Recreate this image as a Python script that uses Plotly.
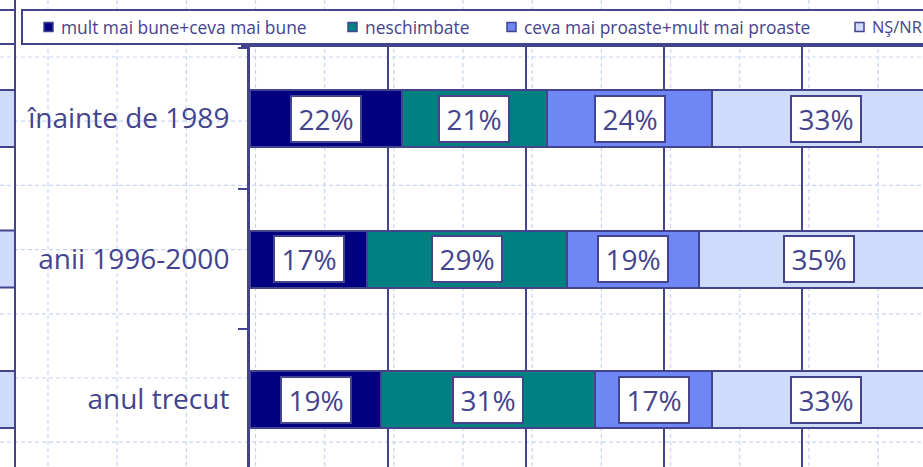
import plotly.graph_objects as go

# ---------------- data ----------------
categories = ["înainte de 1989", "anii 1996-2000", "anul trecut"]
series_names = ["mult mai bune+ceva mai bune", "neschimbate",
                "ceva mai proaste+mult mai proaste", "NŞ/NR"]
v_better = [22, 17, 19]
v_same = [21, 29, 31]
v_worse = [24, 19, 17]
v_nsnr = [33, 35, 33]
series_values = [v_better, v_same, v_worse, v_nsnr]

# ---------------- style ----------------
colors = ["#000080", "#008080", "#6E87F4", "#CFDBFA"]
DARK = "#44448E"
GRID_BG = "#C9D5F6"
FONT = "Open Sans"

W, H = 923, 467
L, T = 250, 47           # plot area left / top in px
PW, PH = W - L, H - T    # plot area size
PX_PER_FULL = 690        # px for 100 %
ROW_PX = 140.5           # px per category
ROW0_CENTER = 118.5      # px of first category centre
BAR_W = 57 / ROW_PX


def px2x(px):
    return (px - L) / PW


def py2y(py):
    return (H - py) / PH


fig = go.Figure()

for name, vals, col in zip(series_names, series_values, colors):
    fig.add_trace(go.Bar(
        orientation="h", y=categories, x=[v / 100 for v in vals], name=name,
        marker=dict(color=col, line=dict(color=DARK, width=2)),
        width=BAR_W, showlegend=False, hoverinfo="skip"))

# data labels (white boxes)
annotations = []
for ci, cat in enumerate(categories):
    start = 0.0
    for vals in series_values:
        v = vals[ci] / 100
        annotations.append(dict(
            x=start + v / 2, y=cat, xref="x", yref="y", text=f"{vals[ci]}%",
            showarrow=False, font=dict(family=FONT, size=28, color=DARK),
            bgcolor="white", bordercolor=DARK, borderwidth=2, borderpad=1,
            width=66, height=42, align="center", valign="middle"))
        start += v

# legend drawn manually (legend box extends past the right edge)
legend_marker_px = [44, 348, 507, 855]
legend_font_sizes = [17.4, 17.4, 17.4, 16.4]
LEG_Y = 27
shapes = []

# background dashed grid (slide grid)
gx = 48.0
while gx < W + 5:
    shapes.append(dict(type="line", xref="paper", yref="paper",
                       x0=px2x(gx), x1=px2x(gx), y0=py2y(0), y1=py2y(H),
                       line=dict(color=GRID_BG, width=1.2, dash="4px,3px"),
                       layer="below"))
    gx += 69.17
gy = 57.0
while gy < H:
    shapes.append(dict(type="line", xref="paper", yref="paper",
                       x0=px2x(0), x1=px2x(W), y0=py2y(gy), y1=py2y(gy),
                       line=dict(color=GRID_BG, width=1.2, dash="4px,3px"),
                       layer="below"))
    gy += 64.2

# remnants of a neighbouring chart on the left
for ci in range(len(categories)):
    shapes.append(dict(type="rect", xref="paper", yref="y",
                       x0=px2x(-5), x1=px2x(15),
                       y0=ci - BAR_W / 2, y1=ci + BAR_W / 2,
                       fillcolor=colors[3], line=dict(color=DARK, width=2),
                       layer="below"))
shapes.append(dict(type="line", xref="paper", yref="paper",
                   x0=px2x(15), x1=px2x(15), y0=py2y(0), y1=py2y(H + 5),
                   line=dict(color=DARK, width=2)))
shapes.append(dict(type="rect", xref="paper", yref="paper",
                   x0=px2x(-5), x1=px2x(15), y0=py2y(10), y1=py2y(44),
                   fillcolor="white", line=dict(color=DARK, width=2)))

# top border of the plot area
shapes.append(dict(type="line", xref="paper", yref="paper",
                   x0=px2x(241), x1=px2x(W + 5), y0=py2y(46), y1=py2y(46),
                   line=dict(color=DARK, width=2)))

# legend box
shapes.append(dict(type="rect", xref="paper", yref="paper",
                   x0=px2x(22), x1=px2x(W + 20), y0=py2y(10), y1=py2y(44),
                   fillcolor="white", line=dict(color=DARK, width=2)))
for mx, col, name, fs in zip(legend_marker_px, colors, series_names,
                             legend_font_sizes):
    shapes.append(dict(type="rect", xref="paper", yref="paper",
                       x0=px2x(mx), x1=px2x(mx + 9),
                       y0=py2y(LEG_Y - 4.5), y1=py2y(LEG_Y + 4.5),
                       fillcolor=col, line=dict(color=DARK, width=1.5)))
    annotations.append(dict(
        x=px2x(mx + 15), y=py2y(LEG_Y), xref="paper", yref="paper",
        xanchor="left", yanchor="middle", text=name, showarrow=False,
        font=dict(family=FONT, size=fs, color=DARK)))

fig.update_layout(
    barmode="stack",
    width=W, height=H,
    margin=dict(l=L, r=0, t=T, b=0, pad=0),
    paper_bgcolor="white", plot_bgcolor="rgba(0,0,0,0)",
    showlegend=False,
    shapes=shapes, annotations=annotations,
    xaxis=dict(range=[0, PW / PX_PER_FULL], tick0=0, dtick=0.2,
               showgrid=True, gridcolor=DARK, gridwidth=2,
               showticklabels=False, zeroline=False, showline=False,
               ticks="", fixedrange=True),
    yaxis=dict(type="category", categoryorder="array", categoryarray=categories,
               range=[(H - ROW0_CENTER) / ROW_PX, -(ROW0_CENTER - T) / ROW_PX],
               showgrid=False, zeroline=False,
               showline=True, linecolor=DARK, linewidth=3,
               ticks="outside", ticklen=9, tickwidth=2, tickcolor=DARK,
               tickson="boundaries", ticklabelstandoff=12,
               tickfont=dict(family=FONT, size=28, color=DARK),
               fixedrange=True),
)

fig.write_html(
    "out.html",
    config={"displayModeBar": False, "staticPlot": True},
    post_script="document.body.style.margin='0';document.body.style.overflow='hidden';",
)
